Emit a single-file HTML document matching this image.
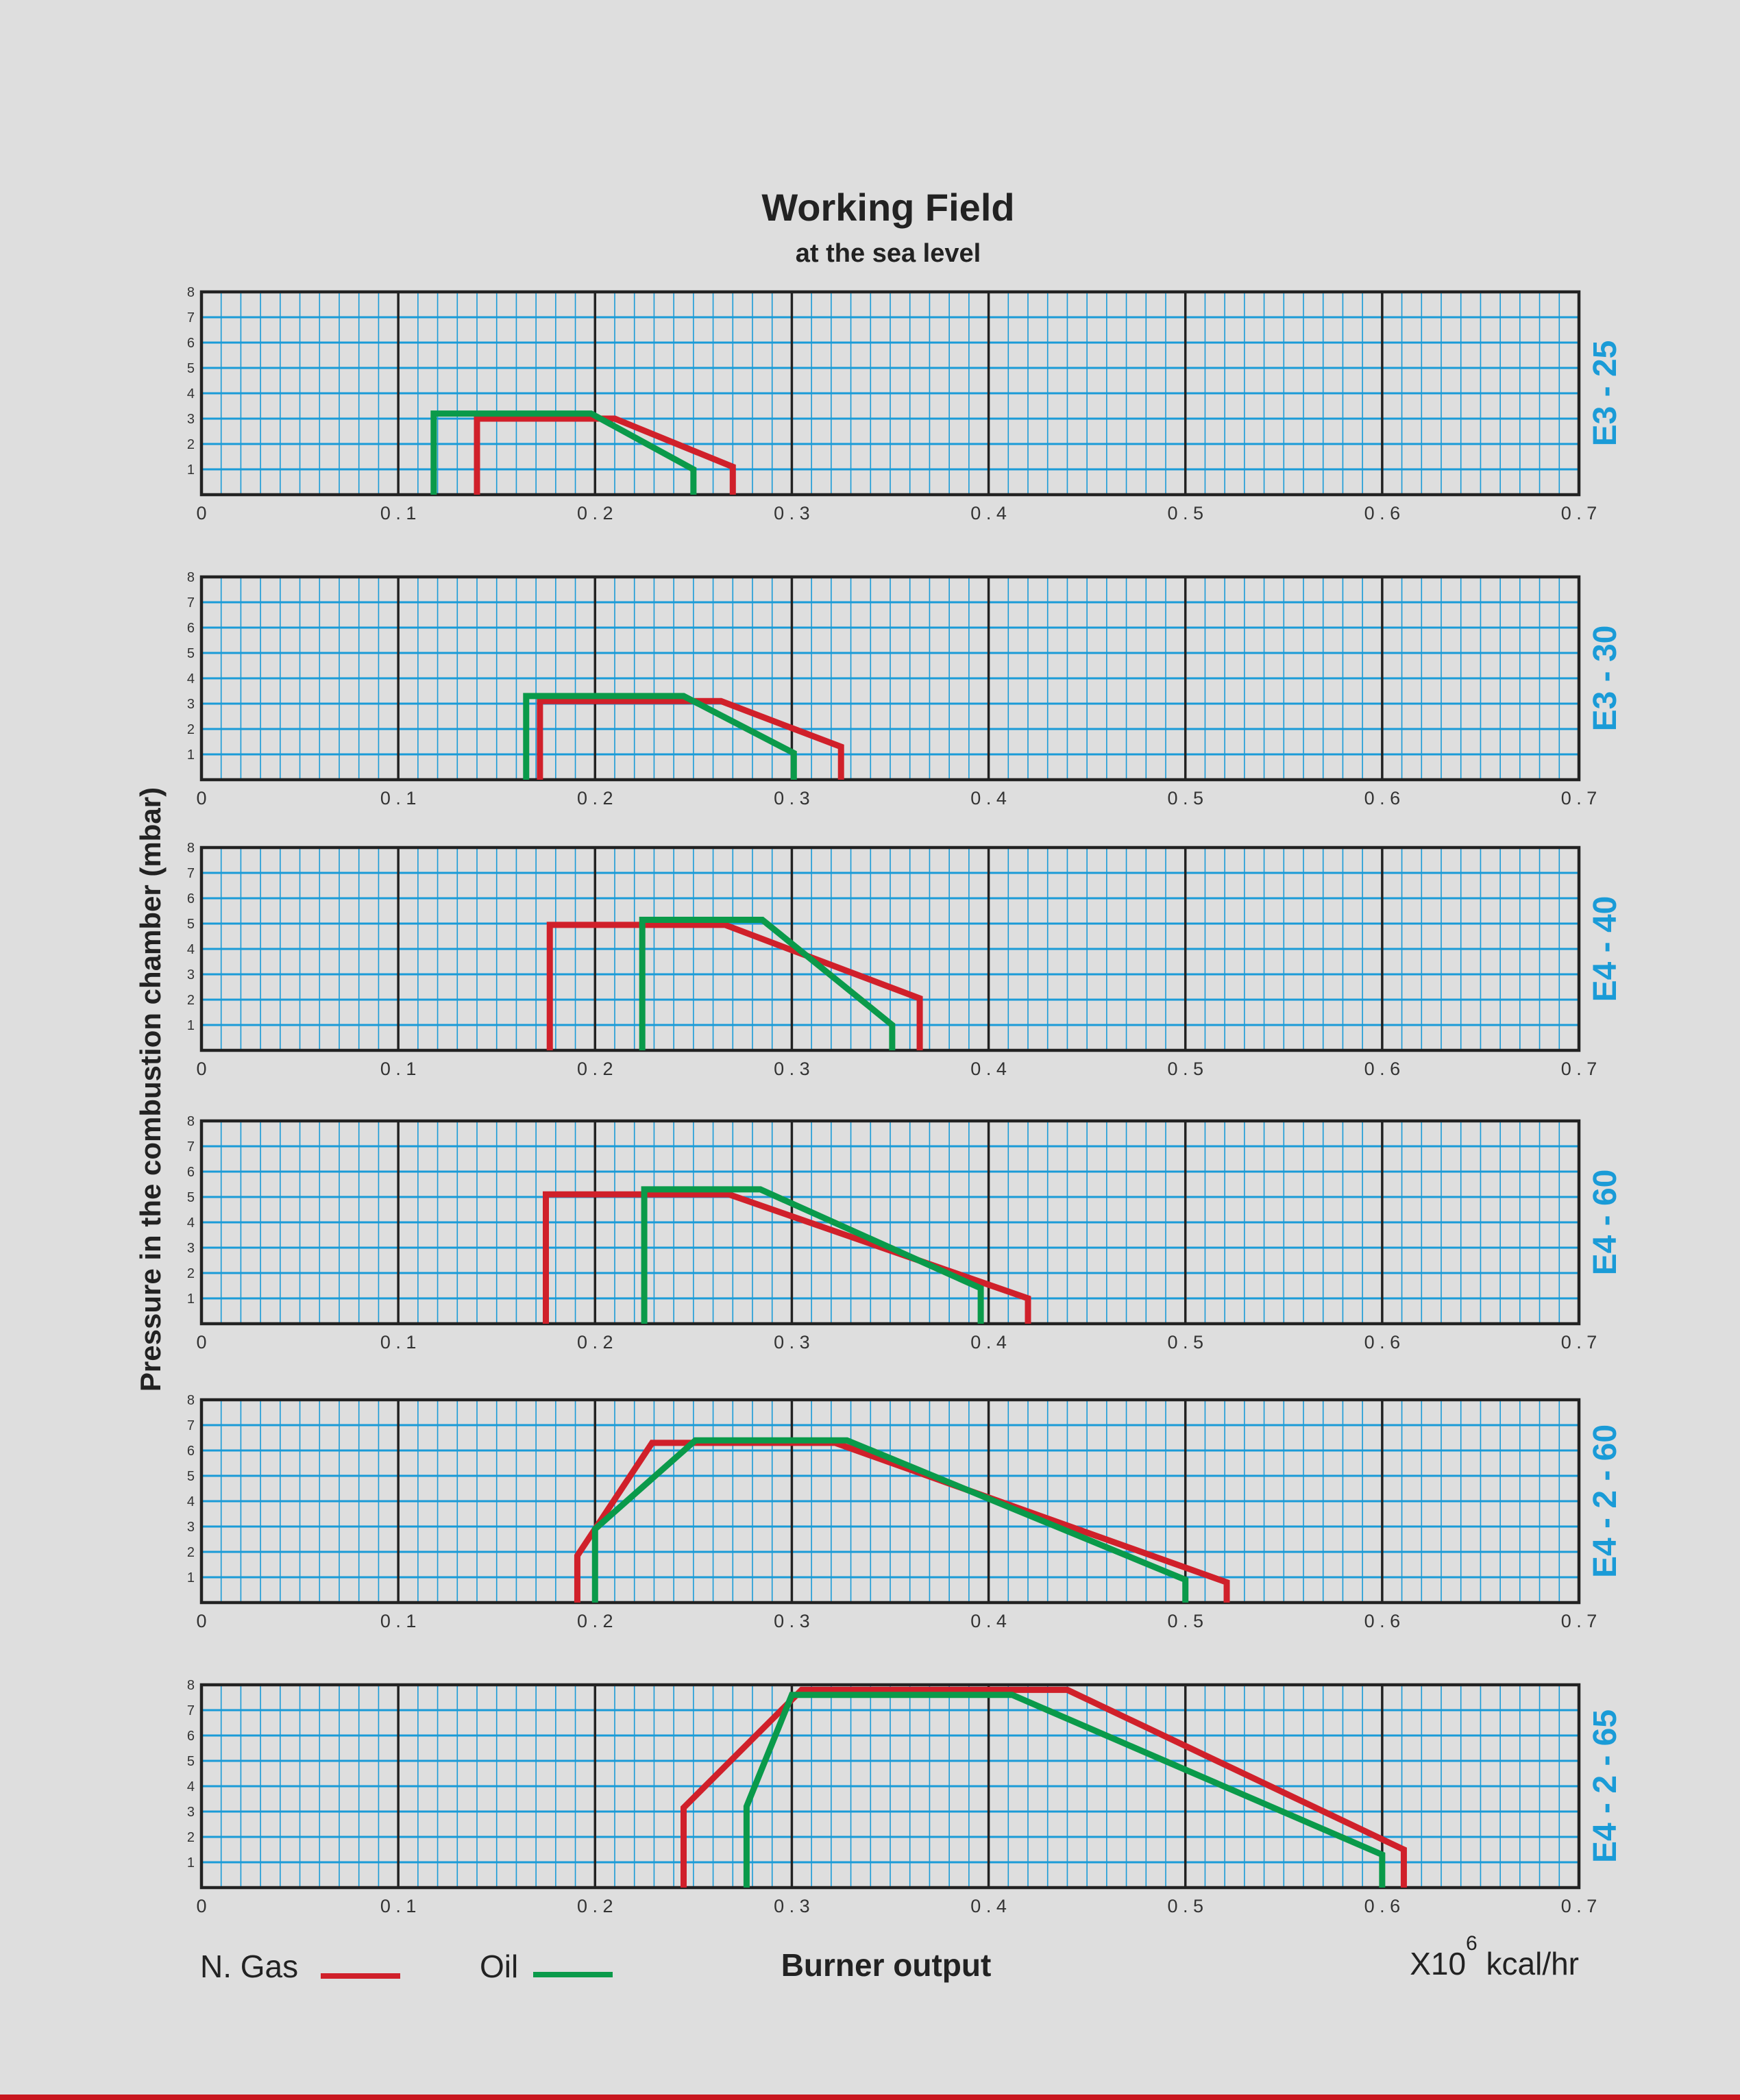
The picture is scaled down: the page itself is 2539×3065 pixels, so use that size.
<!DOCTYPE html>
<html><head><meta charset="utf-8"><style>
html,body{margin:0;padding:0;background:#dedede;}
svg{display:block;}
text{font-family:"Liberation Sans",sans-serif;}
</style></head><body>
<svg id="chart" width="2539" height="3065" viewBox="0 0 2539 3065" xmlns="http://www.w3.org/2000/svg">
<rect width="2539" height="3065" fill="#dedede"/>
<text x="1296" y="322" text-anchor="middle" font-size="56" font-weight="bold" fill="#222">Working Field</text>
<text x="1296" y="382" text-anchor="middle" font-size="38" font-weight="bold" fill="#222">at the sea level</text>
<text transform="translate(234,1590) rotate(-90)" text-anchor="middle" font-size="42" font-weight="bold" fill="#222">Pressure in the combustion chamber (mbar)</text>
<g>
<text x="292" y="2886" font-size="46" fill="#222">N. Gas</text>
<line x1="468" y1="2884" x2="584" y2="2884" stroke="#d0202a" stroke-width="8"/>
<text x="700" y="2886" font-size="46" fill="#222">Oil</text>
<line x1="778" y1="2882" x2="894" y2="2882" stroke="#0a9a4a" stroke-width="8"/>
</g>
<text x="1293" y="2884" text-anchor="middle" font-size="46" font-weight="bold" fill="#222">Burner output</text>
<text x="2304" y="2882" text-anchor="end" font-size="46" fill="#222">X10<tspan dy="-36" font-size="30">6</tspan><tspan dy="36"> kcal/hr</tspan></text>
<rect x="0" y="3057" width="2539" height="8" fill="#c8161e"/>
<g id="panels"></g>
</svg>
<script>
const panelNames = ["E3 - 25","E3 - 30","E4 - 40","E4 - 60","E4 - 2 - 60","E4 - 2 - 65"];
const panelTops = [426, 842, 1237, 1636, 2043, 2459];
const xTickLabels = ["0","0 . 1","0 . 2","0 . 3","0 . 4","0 . 5","0 . 6","0 . 7"];
const xTickValues = [0,0.1,0.2,0.3,0.4,0.5,0.6,0.7];
const yTickValues = [1,2,3,4,5,6,7,8];
const gasSeries = [
 [[0.14,0],[0.14,3.0],[0.21,3.0],[0.27,1.1],[0.27,0]],
 [[0.172,0],[0.172,3.1],[0.264,3.1],[0.325,1.3],[0.325,0]],
 [[0.177,0],[0.177,4.95],[0.266,4.95],[0.365,2.05],[0.365,0]],
 [[0.175,0],[0.175,5.1],[0.268,5.1],[0.42,1.0],[0.42,0]],
 [[0.191,0],[0.191,1.85],[0.229,6.3],[0.322,6.3],[0.521,0.8],[0.521,0]],
 [[0.245,0],[0.245,3.15],[0.305,7.8],[0.44,7.8],[0.611,1.5],[0.611,0]]
];
const oilSeries = [
 [[0.118,0],[0.118,3.2],[0.198,3.2],[0.25,1.0],[0.25,0]],
 [[0.165,0],[0.165,3.3],[0.245,3.3],[0.301,1.05],[0.301,0]],
 [[0.224,0],[0.224,5.15],[0.285,5.15],[0.351,1.0],[0.351,0]],
 [[0.225,0],[0.225,5.3],[0.284,5.3],[0.396,1.4],[0.396,0]],
 [[0.200,0],[0.200,2.9],[0.251,6.4],[0.328,6.4],[0.50,0.9],[0.50,0]],
 [[0.277,0],[0.277,3.2],[0.300,7.6],[0.412,7.6],[0.60,1.3],[0.60,0]]
];
const NS="http://www.w3.org/2000/svg";
const L=294, R=2304, H=296, XMAX=0.7, YMAX=8;
const root=document.getElementById('panels');
function mk(tag,attrs,parent){const e=document.createElementNS(NS,tag);for(const k in attrs)e.setAttribute(k,attrs[k]);parent.appendChild(e);return e;}
panelNames.forEach((name,i)=>{
  const top=panelTops[i], bot=top+H;
  const sx=v=>L+(R-L)*v/XMAX;
  const sy=v=>bot-H*v/YMAX;
  const g=mk('g',{},root);
  
  
  for(let k=1;k<70;k++){ if(k%10===0)continue;
    const l=mk('line',{x1:sx(k/100),x2:sx(k/100),y1:top,y2:bot,stroke:'#1a9bd7','stroke-width':1.6},g);
    
    
  }
  yTickValues.forEach(v=>{
    if(v<YMAX){const l=mk('line',{x1:L,x2:R,y1:sy(v),y2:sy(v),stroke:'#1a9bd7','stroke-width':3},g);
    
    }
    const t=mk('text',{x:L-10,y:sy(v)+7,'text-anchor':'end','font-size':20,fill:'#333'},g);
    t.textContent=v;
    
    
  });
  xTickValues.forEach((v,j)=>{
    if(v>0&&v<XMAX){const l=mk('line',{x1:sx(v),x2:sx(v),y1:top,y2:bot,stroke:'#222','stroke-width':3.5},g);
    
    }
    const t=mk('text',{x:sx(v),y:bot+36,'text-anchor':'middle','font-size':27,fill:'#333'},g);
    t.textContent=xTickLabels[j];
    
    
  });
  const fr=mk('rect',{x:L,y:top,width:R-L,height:H,fill:'none',stroke:'#222','stroke-width':4.5},g);
  
  
  const pts=a=>a.map(p=>sx(p[0])+','+sy(p[1])).join(' ');
  const gp=mk('polyline',{points:pts(gasSeries[i]),fill:'none',stroke:'#d0202a','stroke-width':9,'stroke-linejoin':'miter'},g);
  
  
  const op=mk('polyline',{points:pts(oilSeries[i]),fill:'none',stroke:'#0a9a4a','stroke-width':9,'stroke-linejoin':'miter'},g);
  
  
  const lb=mk('text',{transform:`translate(2358,${top+H/2}) rotate(-90)`,'text-anchor':'middle','font-size':48,'font-weight':'bold',fill:'#1a9bd7'},g);
  lb.textContent=name;
  
  
});
</script>
</body></html>
